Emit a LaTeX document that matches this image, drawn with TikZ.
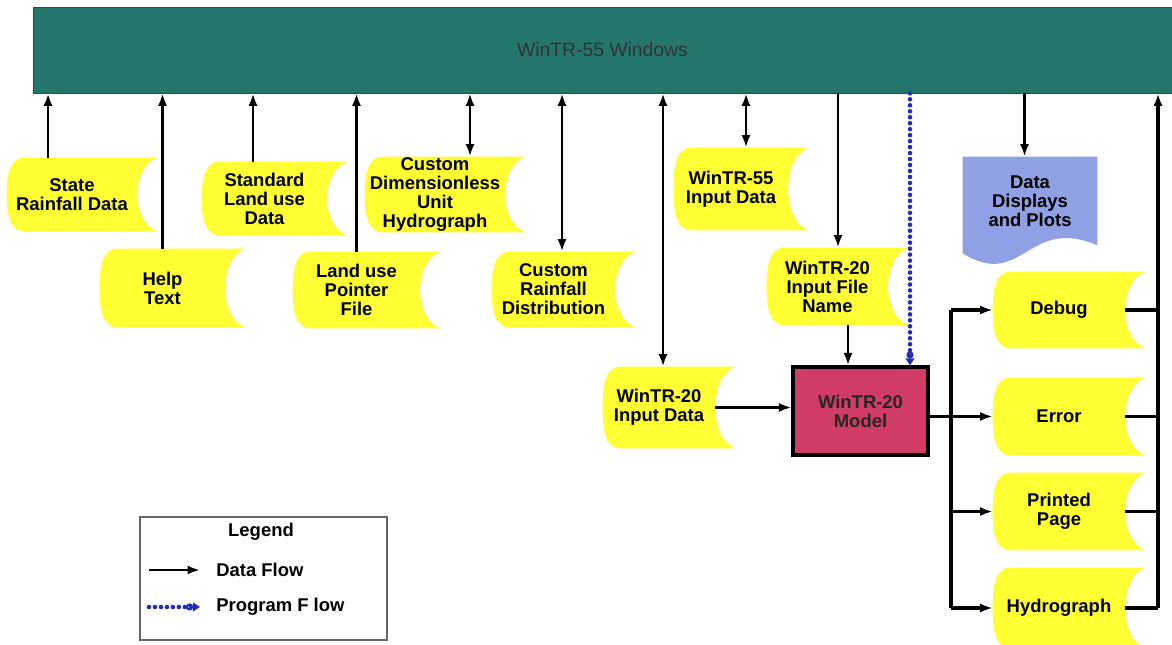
\documentclass[tikz,border=0pt]{standalone}
\usepackage{fontspec}
\setsansfont{Liberation Sans}
\usepackage{tikz}
\usetikzlibrary{arrows.meta,backgrounds}

\definecolor{barteal}{RGB}{36,118,108}
\definecolor{storeyellow}{RGB}{255,255,51}
\definecolor{docblue}{RGB}{143,160,228}
\definecolor{modelred}{RGB}{208,60,100}
\definecolor{progblue}{RGB}{35,45,185}

% stored data outline round a node: bulge on the left, hollow on the right
\newcommand{\storeshape}[1]{%
  \fill[storeyellow] (#1.west) to[out=90,in=180] ([xshift=0.36cm]#1.north west)
    -- ([xshift=0.4cm]#1.north east)
    .. controls ([xshift=-0.14cm,yshift=-0.2cm]#1.north east) and ([xshift=-0.14cm,yshift=0.2cm]#1.south east)
    .. ([xshift=0.4cm]#1.south east)
    -- ([xshift=0.36cm]#1.south west) to[out=180,in=-90] (#1.west) -- cycle;}

% document outline with a wavy foot
\newcommand{\docshape}[1]{%
  \fill[docblue] (#1.north west) -- (#1.north east) -- (#1.south east)
    .. controls ([xshift=-1.4cm,yshift=0.6cm]#1.south east) and ([xshift=1.2cm,yshift=-0.9cm]#1.south west)
    .. ([yshift=-0.16cm]#1.south west) -- cycle;}

\begin{document}
\begin{tikzpicture}[x=0.02cm, y=0.02cm,
    font=\sffamily\bfseries\fontsize{10.5}{10.8}\selectfont,
    store/.style={align=center, inner sep=0pt},
    flow/.style={line width=1.6pt, -{Latex[length=2.5mm,width=1.8mm]}},
    twoway/.style={line width=1.6pt, {Latex[length=2.5mm,width=1.8mm]}-{Latex[length=2.5mm,width=1.8mm]}},
    wire/.style={line width=1.9pt},
    progflow/.style={progblue, line width=2.6pt, line cap=round, dash pattern=on 0pt off 3.4pt,
      -{Circle[open,length=4pt,line width=1.2pt]Triangle[length=4pt,width=5pt]}}]
    \useasboundingbox (0,0) rectangle (1172,645);

    % Top bar
    \node[fill=barteal, draw=barteal!70!black, minimum width=22.78cm, minimum height=1.72cm,
      font=\sffamily\mdseries\fontsize{11}{12}\selectfont, text=black!80] (bar) at (602.5,595) {WinTR-55 Windows};

    % Data stores
    \node[store, minimum width=2.6cm, minimum height=1.46cm] (rain) at (72,450.5) {State\\Rainfall Data};
    \node[store, minimum width=2.5cm, minimum height=1.56cm] (help) at (162.5,357) {Help\\Text};
    \node[store, minimum width=2.5cm, minimum height=1.46cm] (std) at (264.5,446.5) {Standard\\Land use\\Data};
    \node[store, minimum width=2.54cm, minimum height=1.52cm] (ptr) at (356.5,355) {Land use\\Pointer\\File};
    \node[store, minimum width=2.8cm, minimum height=1.5cm] (dim) at (435,450.5) {Custom\\Dimensionless\\Unit\\Hydrograph};
    \node[store, minimum width=2.46cm, minimum height=1.5cm] (crd) at (553.5,355.5) {Custom\\Rainfall\\Distribution};
    \node[store, minimum width=2.28cm, minimum height=1.64cm] (in55) at (731,456) {WinTR-55\\Input Data};
    \node[store, minimum width=2.42cm, minimum height=1.54cm] (in20f) at (827.5,358.5) {WinTR-20\\Input File\\Name};
    \node[store, minimum width=2.24cm, minimum height=1.62cm] (in20) at (659,237.5) {WinTR-20\\Input Data};

    % Outputs
    \node[store, minimum width=2.64cm, minimum height=1.52cm] (debug) at (1059,335) {Debug};
    \node[store, minimum width=2.64cm, minimum height=1.54cm] (error) at (1059,228.5) {Error};
    \node[store, minimum width=2.64cm, minimum height=1.54cm] (page) at (1059,133.5) {Printed\\Page};
    \node[store, minimum width=2.64cm, minimum height=1.6cm] (hydro) at (1059,37) {Hydrograph};
    \node[store, minimum width=2.68cm, minimum height=1.76cm] (dsp) at (1030,444) {Data\\Displays\\and Plots};

    % Model
    \node[fill=modelred, draw=black, line width=1.8pt, minimum width=2.7cm, minimum height=1.76cm,
      align=center, text=black!85] (model) at (860.5,234) {WinTR-20\\Model};

    \begin{scope}[on background layer]
        \foreach \n in {rain,help,std,ptr,dim,crd,in55,in20f,in20,debug,error,page,hydro}
            {\storeshape{\n}}
        \docshape{dsp}
    \end{scope}

    % Links to the bar
    \foreach \n/\s in {rain/-0.48, help/0, std/-0.23, ptr/0}
        {\draw[flow] ([xshift=\s cm]\n.north) coordinate (\n-up) -- (\n-up |- bar.south);}
    \foreach \n/\s in {dim/0.7, crd/0.17, in55/0.3, in20/0.08}
        {\draw[twoway] ([xshift=\s cm]\n.north) coordinate (\n-up) -- (\n-up |- bar.south);}
    \foreach \n/\s in {in20f/0.21, dsp/-0.11}
        {\draw[flow] ([xshift=\s cm]\n.north) coordinate (\n-up) (\n-up |- bar.south) -- (\n-up);}

    % Into the model
    \coordinate (fm) at ([xshift=0.41cm]in20f.south);
    \draw[flow] (fm) -- (fm |- model.north);
    \coordinate (pf) at ([xshift=0.99cm]model.north);
    \draw[progflow] (pf |- bar.south) -- (pf);
    \draw[flow] (in20.east) -- (in20.east -| model.west);

    % Out of the model
    \coordinate (split) at (951,228.5);
    \coordinate (ret) at (1158,37);
    \draw[flow] (model.east |- error) -- (error.west);
    \draw[wire] (split |- debug) -- (split |- hydro);
    \foreach \n in {debug,page,hydro}
        {\draw[flow, line width=1.9pt] (split |- \n) -- (\n.west);}
    \foreach \n in {debug,error,page,hydro}
        {\draw[wire] (\n.east) -- (ret |- \n);}
    \draw[flow, line width=1.9pt] (ret |- hydro) -- (ret |- bar.south);

    % Legend
    \node[draw=black!60, line width=0.8pt, minimum width=4.94cm, minimum height=2.46cm] (legend) at (263.5,66.5) {};
    \node (legtitle) at (261,113) {Legend};
    \node[anchor=west, inner sep=0pt] (legdata) at (216,75) {Data Flow};
    \node[anchor=west, inner sep=0pt] (legprog) at (216,38) {Program F low};
    \coordinate (lda) at (149,75);
    \coordinate (lpa) at (149,38);
    \draw[flow] (lda) -- ([xshift=-0.32cm]legdata.west);
    \draw[progflow] (lpa) -- ([xshift=-0.32cm]legprog.west);
\end{tikzpicture}
\end{document}
